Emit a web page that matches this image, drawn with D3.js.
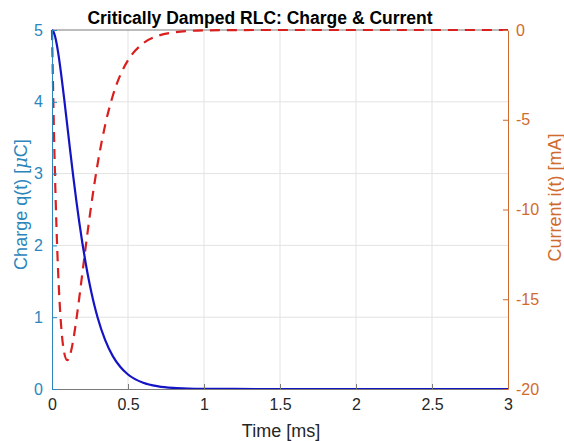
<!DOCTYPE html>
<html>
<head>
<meta charset="utf-8">
<script src="https://cdn.jsdelivr.net/npm/d3@7"></script>
<style>
  html, body { margin: 0; padding: 0; background: #fff; }
  text { font-family: "Liberation Sans", Arial, Helvetica, sans-serif; }
</style>
</head>
<body>
<svg id="chart" width="564" height="441"></svg>
<script>
// Data (time in ms)
const timeMs = [0, 0.01, 0.02, 0.03, 0.04, 0.06, 0.08, 0.10, 0.12, 0.14, 0.16, 0.18, 0.20,
                0.22, 0.24, 0.26, 0.28, 0.30, 0.35, 0.40, 0.45, 0.50, 0.60, 0.70, 0.80,
                0.90, 1.00, 1.20, 1.50, 2.00, 2.50, 3.00];
const chargeUC = [5.000, 4.977, 4.912, 4.815, 4.692, 4.390, 4.044, 3.679, 3.313, 2.959, 2.625, 2.314, 2.030,
                  1.773, 1.542, 1.337, 1.155, 0.996, 0.680, 0.458, 0.306, 0.202, 0.087, 0.037, 0.015,
                  0.006, 0.0025, 0.0004, 0, 0, 0, 0];
const currentMA = [0, -4.524, -8.187, -11.112, -13.406, -16.464, -17.973, -18.394, -18.071, -17.262, -16.152, -14.877, -13.534,
                   -12.188, -10.886, -9.655, -8.513, -7.468, -5.285, -3.663, -2.500, -1.684, -0.744, -0.319, -0.134,
                   -0.055, -0.023, -0.004, 0, 0, 0, 0];
const xTicks = [0, 0.5, 1, 1.5, 2, 2.5, 3];
const leftTicks = [0, 1, 2, 3, 4, 5];
const rightTicks = [0, -5, -10, -15, -20];

const titleText = "Critically Damped RLC: Charge & Current";
const xLabel = "Time [ms]";
const rightLabel = "Current i(t) [mA]";

const leftColor = "#2C86BC";
const rightColor = "#CF6B2E";
const textDark = "#262626";

const m = { left: 52, right: 508, top: 30, bottom: 389 };
const svg = d3.select("#chart");

const x = d3.scaleLinear().domain([0, 3]).range([m.left, m.right]);
const yL = d3.scaleLinear().domain([0, 5]).range([m.bottom, m.top]);
const yR = d3.scaleLinear().domain([-20, 0]).range([m.bottom, m.top]);

// grid
const grid = svg.append("g").attr("stroke", "#e3e3e3").attr("stroke-width", 1);
xTicks.slice(1, -1).forEach(t => grid.append("line")
  .attr("x1", x(t)).attr("x2", x(t)).attr("y1", m.top).attr("y2", m.bottom));
leftTicks.slice(1, -1).forEach(t => grid.append("line")
  .attr("x1", m.left).attr("x2", m.right).attr("y1", yL(t)).attr("y2", yL(t)));

// top box line
svg.append("line").attr("x1", m.left).attr("x2", m.right).attr("y1", m.top).attr("y2", m.top)
  .attr("stroke", "#7a7a7a").attr("stroke-width", 1);

// data lines
const data = timeMs.map((t, i) => ({ t, q: chargeUC[i], c: currentMA[i] }));
const lineQ = d3.line().x(d => x(d.t)).y(d => yL(d.q)).curve(d3.curveMonotoneX);
const lineI = d3.line().x(d => x(d.t)).y(d => yR(d.c)).curve(d3.curveMonotoneX);

svg.append("path").datum(data).attr("d", lineI)
  .attr("fill", "none").attr("stroke", "#DA1F1F").attr("stroke-width", 2.2)
  .attr("stroke-dasharray", "10,7");
svg.append("path").datum(data).attr("d", lineQ)
  .attr("fill", "none").attr("stroke", "#1414C4").attr("stroke-width", 2.2);

const plain = d => String(d);

// axes
const xAxis = d3.axisBottom(x).tickValues(xTicks).tickSizeInner(-5).tickSizeOuter(0)
  .tickPadding(10).tickFormat(plain);
const gx = svg.append("g").attr("transform", `translate(0,${m.bottom})`).call(xAxis);
gx.select(".domain").attr("stroke", "#7a7a7a");
gx.selectAll(".tick line").attr("stroke", "#7a7a7a");
gx.selectAll("text").attr("fill", textDark).attr("font-size", 16);

const leftAxis = d3.axisLeft(yL).tickValues(leftTicks).tickSizeInner(-5).tickSizeOuter(0)
  .tickPadding(9).tickFormat(plain);
const gl = svg.append("g").attr("transform", `translate(${m.left},0)`).call(leftAxis);
gl.select(".domain").attr("stroke", leftColor);
gl.selectAll(".tick line").attr("stroke", leftColor);
gl.selectAll("text").attr("fill", leftColor).attr("font-size", 16);

const rightAxis = d3.axisRight(yR).tickValues(rightTicks).tickSizeInner(-5).tickSizeOuter(0)
  .tickPadding(8).tickFormat(plain);
const gr = svg.append("g").attr("transform", `translate(${m.right},0)`).call(rightAxis);
gr.select(".domain").attr("stroke", rightColor);
gr.selectAll(".tick line").attr("stroke", rightColor);
gr.selectAll("text").attr("fill", rightColor).attr("font-size", 16);

// title
svg.append("text").attr("x", (m.left + m.right) / 2 - 20).attr("y", 24)
  .attr("text-anchor", "middle").attr("font-size", 17.5).attr("font-weight", "bold")
  .attr("fill", "#000").text(titleText);

// x label
svg.append("text").attr("x", (m.left + m.right) / 2 + 1).attr("y", 437)
  .attr("text-anchor", "middle").attr("font-size", 18).attr("fill", textDark).text(xLabel);

// left label with italic mu
const ll = svg.append("text").attr("transform", `translate(27,${(m.top + m.bottom) / 2 - 5}) rotate(-90)`)
  .attr("text-anchor", "middle").attr("font-size", 18).attr("fill", leftColor);
ll.append("tspan").text("Charge q(t) [");
ll.append("tspan").attr("font-style", "italic").attr("font-family", "'DejaVu Serif', serif").text("\u03bc");
ll.append("tspan").text("C]");

// right label
svg.append("text").attr("transform", `translate(561,${(m.top + m.bottom) / 2 - 12}) rotate(-90)`)
  .attr("text-anchor", "middle").attr("font-size", 18).attr("fill", rightColor).text(rightLabel);
</script>
</body>
</html>
